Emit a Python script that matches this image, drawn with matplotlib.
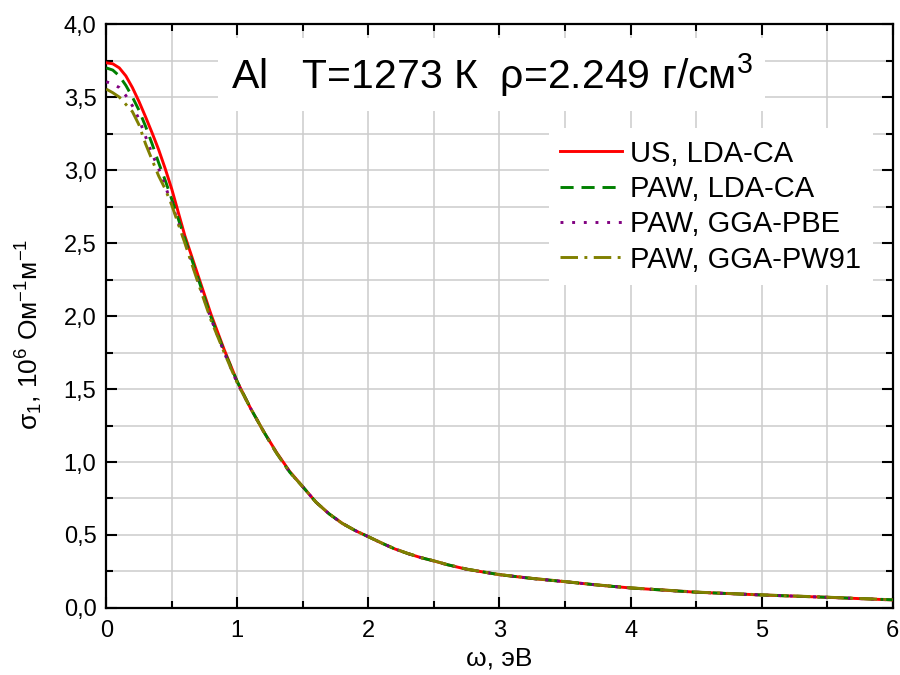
import matplotlib
matplotlib.use('Agg')
import matplotlib.pyplot as plt
from matplotlib.ticker import MultipleLocator

plt.rcParams['font.family'] = ['Liberation Sans', 'DejaVu Sans']
plt.rcParams['mathtext.fontset'] = 'custom'
plt.rcParams['mathtext.rm'] = 'Liberation Sans'
plt.rcParams['mathtext.it'] = 'Liberation Sans'
plt.rcParams['mathtext.bf'] = 'Liberation Sans:bold'

# photon energy, eV
w = [0, 0.05, 0.1, 0.15, 0.2, 0.25, 0.3, 0.35, 0.4, 0.45, 0.5, 0.6, 0.7,
     0.8, 0.9, 1.0, 1.1, 1.2, 1.3, 1.4, 1.5, 1.6, 1.7, 1.8, 1.9, 2.0,
     2.1, 2.2, 2.3, 2.4, 2.5, 2.6, 2.75, 3.0, 3.25, 3.5, 3.75, 4.0,
     4.5, 5.0, 5.5, 6.0]

# sigma_1, 10^6 Ohm^-1 m^-1
us_lda = [3.735, 3.728, 3.70, 3.645, 3.565, 3.47, 3.365, 3.255, 3.14,
          3.01, 2.87, 2.55, 2.28, 2.01, 1.77, 1.55, 1.37, 1.21, 1.065,
          0.935, 0.83, 0.725, 0.645, 0.58, 0.53, 0.488, 0.445, 0.405,
          0.373, 0.345, 0.322, 0.297, 0.265, 0.228, 0.202, 0.18, 0.157,
          0.137, 0.108, 0.089, 0.073, 0.055]
paw_lda = [3.70, 3.685, 3.645, 3.58, 3.50, 3.41, 3.30, 3.18, 3.05, 2.93,
           2.80, 2.53, 2.26, 1.99, 1.76, 1.55, 1.37, 1.21, 1.06, 0.93,
           0.83, 0.725, 0.645, 0.58, 0.53, 0.488, 0.445, 0.405, 0.373,
           0.345, 0.322, 0.297, 0.266, 0.228, 0.202, 0.18, 0.157, 0.137,
           0.108, 0.089, 0.073, 0.056]
paw_pbe = [3.605, 3.59, 3.565, 3.51, 3.44, 3.35, 3.23, 3.11, 3.01, 2.89,
           2.77, 2.51, 2.24, 1.98, 1.75, 1.54, 1.37, 1.21, 1.06, 0.93,
           0.83, 0.725, 0.645, 0.58, 0.53, 0.488, 0.445, 0.405, 0.373,
           0.345, 0.322, 0.297, 0.265, 0.228, 0.202, 0.18, 0.157, 0.137,
           0.108, 0.089, 0.073, 0.055]
paw_pw91 = [3.555, 3.53, 3.50, 3.45, 3.40, 3.31, 3.18, 3.07, 2.96, 2.87,
            2.76, 2.50, 2.23, 1.97, 1.75, 1.54, 1.37, 1.21, 1.06, 0.93,
            0.83, 0.725, 0.645, 0.58, 0.53, 0.488, 0.446, 0.406, 0.374,
            0.346, 0.323, 0.298, 0.266, 0.229, 0.203, 0.181, 0.158, 0.138,
            0.109, 0.09, 0.074, 0.056]

f = plt.figure(figsize=(9, 6.75), dpi=100)
ax = f.add_axes([0.118, 0.0993, 0.874, 0.865])

lw = 2.1
ax.plot(w, us_lda, color='#ff0000', lw=lw, label='US, LDA-CA', zorder=3)
ax.plot(w, paw_lda, color='#008000', lw=lw, dashes=(4.5, 2.7),
        label='PAW, LDA-CA', zorder=4)
ax.plot(w, paw_pbe, color='#800080', lw=lw, dashes=(1, 3),
        label='PAW, GGA-PBE', zorder=4)
ax.plot(w, paw_pw91, color='#808000', lw=lw, dashes=(6, 2.2, 1, 2.2),
        label='PAW, GGA-PW91', zorder=4)

ax.set_xlim(0, 6)
ax.set_ylim(0, 4)
ax.xaxis.set_major_locator(MultipleLocator(1))
ax.xaxis.set_minor_locator(MultipleLocator(0.5))
ax.yaxis.set_major_locator(MultipleLocator(0.5))
ax.yaxis.set_minor_locator(MultipleLocator(0.25))
ax.yaxis.set_major_formatter(lambda v, p: f"{v:.1f}".replace('.', ','))
ax.grid(which='both', color='#cccccc', lw=1.1, zorder=0)
ax.set_axisbelow(True)
ax.tick_params(which='both', direction='in', top=True, right=True,
               width=1.5, labelsize=17)
ax.tick_params(which='major', length=8)
ax.tick_params(axis='x', which='major', pad=9)
ax.tick_params(axis='y', which='major', pad=7)
ax.tick_params(which='minor', length=5)
for s in ax.spines.values():
    s.set_linewidth(1.6)

ax.set_xlabel('ω, эВ', fontsize=19, labelpad=3)
ax.set_ylabel('σ$_1$, 10$^6$ Ом$^{-1}$м$^{-1}$', fontsize=19)
ax.yaxis.set_label_coords(-0.078, 0.469)

ax.text(0.49, 0.913, 'Al   T=1273 К  ρ=2.249 г/см$^3$', fontsize=29.5,
        ha='center', va='center', transform=ax.transAxes, zorder=6,
        bbox=dict(facecolor='white', edgecolor='none', pad=9))

leg = ax.legend(loc='upper right', bbox_to_anchor=(0.975, 0.822),
                fontsize=21, handlelength=2.1, handletextpad=0.3,
                labelspacing=0.25, borderaxespad=0, framealpha=1,
                fancybox=False, edgecolor='none', facecolor='white')
leg.set_zorder(6)

f.savefig('out.png', dpi=100)
plt.close(f)
